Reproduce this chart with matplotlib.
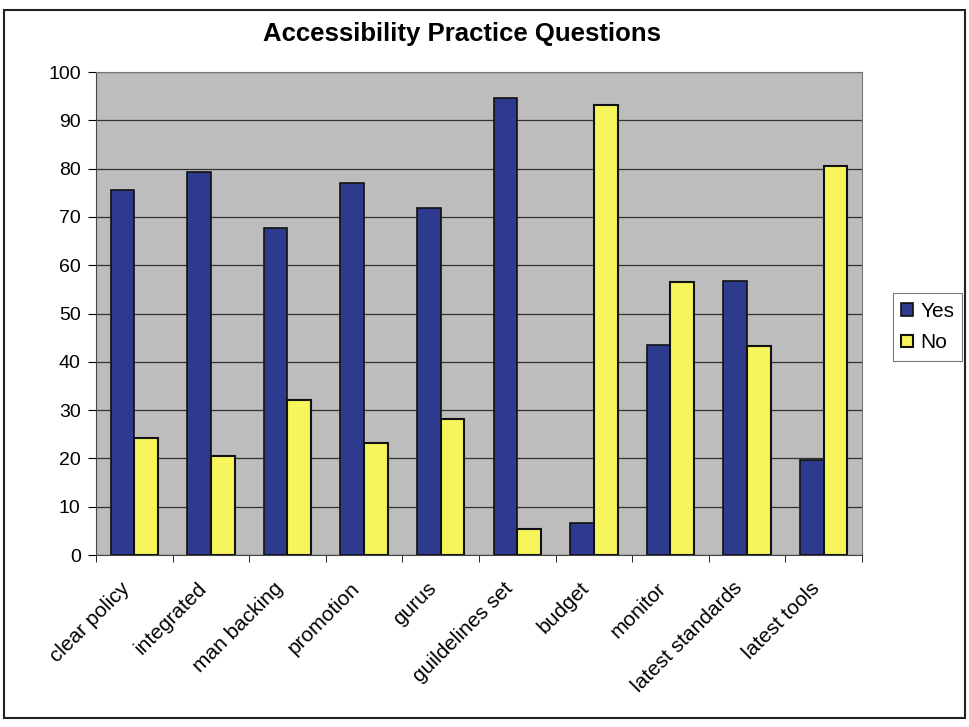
import numpy as np
import matplotlib
matplotlib.use("Agg")
from matplotlib import pyplot as plt
from matplotlib.patches import Rectangle
from matplotlib.transforms import ScaledTranslation

# data
categories = ["clear policy", "integrated", "man backing", "promotion", "gurus",
              "guildelines set", "budget", "monitor", "latest standards", "latest tools"]
yes_vals = [75.6, 79.3, 67.8, 77.0, 71.9, 94.6, 6.7, 43.5, 56.7, 19.6]
no_vals = [24.2, 20.6, 32.0, 23.1, 28.1, 5.4, 93.2, 56.6, 43.3, 80.5]

plt.rcParams['font.family'] = ['Liberation Sans', 'DejaVu Sans']

W, H = 970, 727
fig = plt.figure(figsize=(W / 100, H / 100), dpi=100)

# outer chart border
fig.patches.append(Rectangle((4 / W, 1 - 718 / H), 961 / W, 708 / H,
                             transform=fig.transFigure, fill=False,
                             edgecolor='#222222', linewidth=1.5))

ax = fig.add_axes([96 / W, 1 - 555 / H, 766 / W, 483 / H])
ax.set_facecolor('#bdbdbd')

x = np.arange(len(categories))
w = 0.31
ax.bar(x - w / 2, yes_vals, w, color='#2e3a8e', edgecolor='#111111',
       linewidth=1.2, label='Yes', zorder=3)
ax.bar(x + w / 2, no_vals, w, color='#f6f65c', edgecolor='#111111',
       linewidth=1.5, label='No', zorder=3)

ax.set_ylim(0, 100)
ax.set_xlim(-0.5, len(categories) - 0.5)
ax.set_yticks(range(0, 101, 10))
ax.yaxis.grid(True, color='#333333', linewidth=0.9, zorder=1)
ax.tick_params(axis='y', labelsize=14, length=6, direction='out', pad=5)

# category labels at the centres, tick marks at the boundaries (Excel style)
ax.set_xticks(x)
ax.set_xticklabels(categories, rotation=45, ha='right', va='top',
                   rotation_mode='anchor', fontsize=15)
ax.tick_params(axis='x', which='major', length=0, pad=22)
ax.set_xticks(np.arange(-0.5, len(categories)), minor=True)
ax.tick_params(axis='x', which='minor', length=5, direction='out')
shift = ScaledTranslation(-0.14, 0.07, fig.dpi_scale_trans)
for lbl in ax.get_xticklabels():
    lbl.set_transform(lbl.get_transform() + shift)

for s in ['top', 'right']:
    ax.spines[s].set_color('#777777')
for s in ['left', 'bottom']:
    ax.spines[s].set_color('#444444')

fig.text(462 / W, 1 - 34 / H, "Accessibility Practice Questions",
         ha='center', va='center', fontsize=18.5, fontweight='bold')

leg = fig.legend(loc='center left', bbox_to_anchor=(893 / W, 1 - 327 / H),
                 fontsize=15, frameon=True, fancybox=False, edgecolor='#555555',
                 handlelength=0.55, handleheight=0.55, handletextpad=0.35,
                 borderpad=0.4, labelspacing=0.6, borderaxespad=0)
leg.get_frame().set_linewidth(0.8)

fig.savefig("out.png", dpi=100)
